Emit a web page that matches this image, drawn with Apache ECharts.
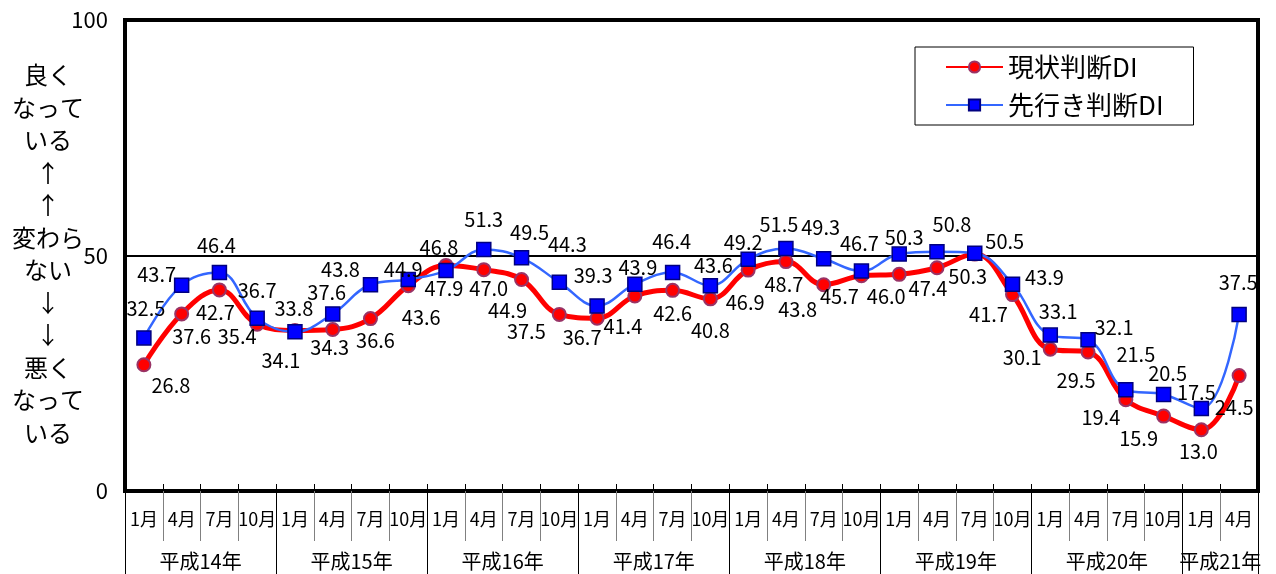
<!DOCTYPE html>
<html>
<head>
<meta charset="utf-8">
<script src="https://cdn.jsdelivr.net/npm/echarts@6/dist/echarts.min.js"></script>
<style>
  html, body { margin: 0; padding: 0; background: #fff; }
  #chart { width: 1276px; height: 574px; }
</style>
</head>
<body>
<div id="chart"></div>
<script>
// Quarterly survey: 現状判断DI / 先行き判断DI
const months = [
  '1月','4月','7月','10月', '1月','4月','7月','10月',
  '1月','4月','7月','10月', '1月','4月','7月','10月',
  '1月','4月','7月','10月', '1月','4月','7月','10月',
  '1月','4月','7月','10月', '1月','4月'
];
const years = ['平成14年','平成15年','平成16年','平成17年','平成18年','平成19年','平成20年','平成21年'];
const monthsPerYear = [4, 4, 4, 4, 4, 4, 4, 2];

const currentDI = [26.8, 37.6, 42.7, 35.4, 34.1, 34.3, 36.6, 43.6, 47.9, 47.0, 44.9, 37.5, 36.7, 41.4, 42.6, 40.8,
                   46.9, 48.7, 43.8, 45.7, 46.0, 47.4, 50.3, 41.7, 30.1, 29.5, 19.4, 15.9, 13.0, 24.5];
const outlookDI = [32.5, 43.7, 46.4, 36.7, 33.8, 37.6, 43.8, 44.9, 46.8, 51.3, 49.5, 44.3, 39.3, 43.9, 46.4, 43.6,
                   49.2, 51.5, 49.3, 46.7, 50.3, 50.8, 50.5, 43.9, 33.1, 32.1, 21.5, 20.5, 17.5, 37.5];
const yTicks = [0, 50, 100];

// label placement (pixel offsets from each marker)
const currentLabelOffsets = [
  [27,21],[10,23],[-4,23],[-20,12],[-14,30],[-3,18],[5,22],[13,32],[-2,23],[5,19],
  [-14,31],[-33,17],[-15,19],[-12,30],[0,23],[0,32],[-3,32],[-2,23],[-26,25],[-22,21],
  [-13,22],[-9,21],[-7,22],[-24,20],[-28,8],[-12,28],[-25,18],[-25,22],[-3,22],[-5,32]
];
const outlookLabelOffsets = [
  [2,-30],[-25,-11],[-3,-27],[0,-28],[-1,-23],[-6,-21],[-30,-15],[-5,-10],[-7,-23],[0,-30],
  [8,-25],[8,-38],[-4,-30],[3,-17],[-1,-31],[3,-20],[-5,-17],[-7,-24],[-3,-31],[-2,-28],
  [5,-17],[15,-27],[30,-12],[32,-7],[8,-24],[26,-12],[10,-35],[4,-21],[-5,-16],[-1,-32]
];

// year boundaries and centres on a 0..N scale of month slots
const yearBounds = [0];
monthsPerYear.forEach(n => yearBounds.push(yearBounds[yearBounds.length - 1] + n));
const yearCentres = years.map((_, i) => (yearBounds[i] + yearBounds[i + 1]) / 2);

const FONT = '"Noto Sans CJK JP", "Noto Sans", sans-serif';

function withLabels(values, offsets) {
  return values.map((v, i) => ({
    value: v,
    label: { offset: offsets[i] }
  }));
}

const chart = echarts.init(document.getElementById('chart'), null, { renderer: 'canvas' });

chart.setOption({
  animation: false,
  backgroundColor: '#ffffff',
  textStyle: { fontFamily: FONT },
  grid: {
    left: 125, right: 18, top: 20, bottom: 83,
    containLabel: false,
    outerBoundsMode: 'none',
    show: true, borderColor: '#000', borderWidth: 4, backgroundColor: 'transparent'
  },
  legend: {
    orient: 'vertical',
    left: 915, top: 47,
    padding: [7, 30, 7, 30],
    itemGap: 12,
    itemWidth: 57,
    itemHeight: 14,
    backgroundColor: '#fff',
    borderColor: '#000',
    borderWidth: 1,
    textStyle: { fontSize: 26, color: '#000', fontFamily: FONT },
    data: ['現状判断DI', '先行き判断DI']
  },
  graphic: [{
    type: 'text',
    style: {
      x: 48, y: 59,
      text: ['良く','なって','いる','↑','↑','変わら','ない','↓','↓','悪く','なって','いる'].join('\n'),
      align: 'center',
      verticalAlign: 'top',
      font: '24px ' + FONT,
      lineHeight: 32.5,
      fill: '#000'
    }
  }],
  xAxis: [
    {
      type: 'category',
      position: 'bottom',
      data: months,
      boundaryGap: true,
      axisLine: { show: false },
      axisTick: { show: true, inside: true, length: 7, interval: 0, lineStyle: { color: '#000', width: 1 } },
      axisLabel: { interval: 0, margin: 19, fontSize: 18, color: '#000', fontFamily: FONT },
      splitLine: { show: false }
    },
    {
      type: 'category',
      position: 'bottom',
      data: months,
      boundaryGap: true,
      axisLine: { show: false },
      axisTick: { show: true, length: 50, interval: 0, lineStyle: { color: '#808080', width: 1 } },
      axisLabel: { show: false },
      splitLine: { show: false }
    },
    {
      type: 'value',
      position: 'bottom',
      min: 0,
      max: yearBounds[yearBounds.length - 1],
      axisLine: { show: false },
      axisTick: { show: true, length: 83, customValues: yearBounds, lineStyle: { color: '#000', width: 1 } },
      axisLabel: {
        show: true,
        customValues: yearCentres,
        margin: 60,
        fontSize: 20,
        color: '#000',
        fontFamily: FONT,
        formatter: v => {
          const i = yearCentres.indexOf(v);
          return i >= 0 ? years[i] : '';
        }
      },
      splitLine: { show: false }
    }
  ],
  yAxis: {
    type: 'value',
    min: yTicks[0],
    max: yTicks[yTicks.length - 1],
    interval: yTicks[1] - yTicks[0],
    axisLine: { show: false },
    axisTick: { show: false },
    axisLabel: { margin: 17, fontSize: 22, color: '#000', fontFamily: FONT },
    splitLine: { show: true, lineStyle: { color: '#000', width: 2 } }
  },
  series: [
    {
      name: '現状判断DI',
      type: 'line',
      xAxisIndex: 0,
      smooth: 0.4,
      data: withLabels(currentDI, currentLabelOffsets),
      symbol: 'circle',
      symbolSize: 13,
      lineStyle: { color: '#ff0000', width: 5 },
      itemStyle: { color: '#ff0000', borderColor: '#993366', borderWidth: 2 },
      label: {
        show: true,
        position: 'inside',
        align: 'center',
        verticalAlign: 'middle',
        fontSize: 20,
        color: '#000',
        fontFamily: FONT,
        formatter: p => p.value.toFixed(1)
      },
      z: 2
    },
    {
      name: '先行き判断DI',
      type: 'line',
      xAxisIndex: 0,
      smooth: 0.4,
      data: withLabels(outlookDI, outlookLabelOffsets),
      symbol: 'rect',
      symbolSize: 14,
      lineStyle: { color: '#3366ff', width: 2.5 },
      itemStyle: { color: '#0000ff', borderColor: '#000080', borderWidth: 1.5 },
      label: {
        show: true,
        position: 'inside',
        align: 'center',
        verticalAlign: 'middle',
        fontSize: 20,
        color: '#000',
        fontFamily: FONT,
        formatter: p => p.value.toFixed(1)
      },
      z: 3
    }
  ]
});
</script>
</body>
</html>
